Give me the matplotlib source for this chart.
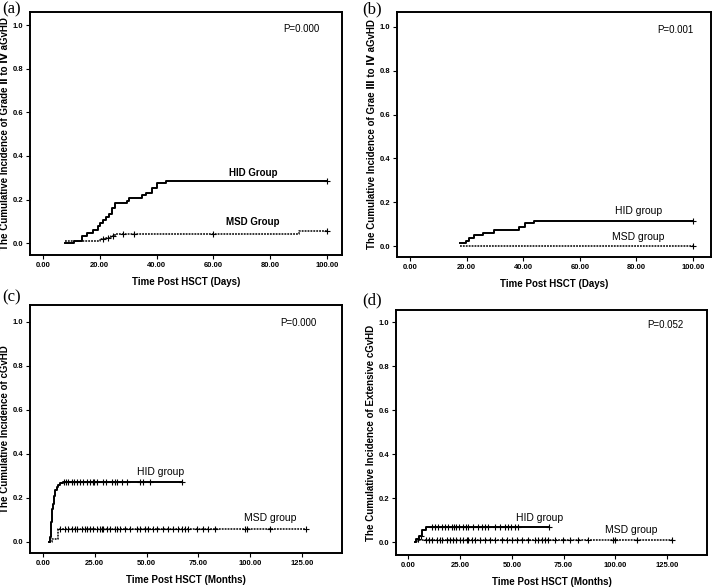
import numpy as np
import matplotlib
matplotlib.use('Agg')
import matplotlib.pyplot as plt
from matplotlib.ticker import FormatStrFormatter

plt.rcParams['font.family'] = ['Liberation Sans', 'DejaVu Sans']

# (a) grade II-IV aGvHD, days
a_hid_t = [7.8, 10.9, 13.6, 15.6, 17.5, 19.5, 20.1, 21.0, 22.0, 23.1, 24.3, 25.3,
           29.4, 30.4, 34.7, 36.1, 38.2, 40.0, 43.2, 100.0]
a_hid_y = [0.0, 0.012, 0.035, 0.047, 0.06, 0.078, 0.092, 0.106, 0.12, 0.133, 0.16,
           0.183, 0.195, 0.207, 0.221, 0.232, 0.253, 0.274, 0.285, 0.285]
a_hid_c = [100.0]
a_msd_t = [7.8, 20.0, 22.0, 24.0, 25.5, 90.0, 100.0]
a_msd_y = [0.012, 0.018, 0.026, 0.035, 0.044, 0.055, 0.055]
a_msd_c = [21.0, 23.0, 24.6, 28.0, 32.0, 60.0, 100.0]

# (b) grade III-IV aGvHD, days
b_hid_t = [17.5, 19.7, 21.0, 22.6, 25.7, 29.7, 38.6, 40.6, 43.9, 100.0]
b_hid_y = [0.012, 0.025, 0.038, 0.049, 0.061, 0.073, 0.086, 0.104, 0.115, 0.115]
b_hid_c = [100.0]
b_msd_t = [17.5, 100.0]
b_msd_y = [0.0, 0.0]
b_msd_c = [100.0]

# (c) cGvHD, months
c_hid_t = [3.0, 3.4, 3.8, 4.5, 5.0, 5.4, 5.9, 6.5, 7.2, 8.0, 9.5, 66.9]
c_hid_y = [0.0, 0.02, 0.09, 0.147, 0.174, 0.21, 0.235, 0.25, 0.26, 0.266, 0.273, 0.273]
c_hid_c = [10.1, 11.1, 12.2, 13.8, 14.9, 16.6, 17.9, 19.5, 21.4, 22.7, 24.0, 24.8,
           25.9, 29.1, 30.4, 33.2, 34.8, 35.6, 38.0, 40.4, 46.6, 48.1, 51.6, 66.9]
c_msd_t = [3.0, 4.2, 7.2, 126.9]
c_msd_y = [0.0, 0.011, 0.056, 0.056]
c_msd_c = [8.2, 10.6, 12.2, 13.8, 15.4, 16.6, 18.7, 20.3, 21.4, 22.7, 24.3, 25.9,
           27.5, 28.3, 29.1, 30.7, 32.3, 34.8, 35.9, 37.2, 39.6, 42.0, 45.2, 46.8,
           49.2, 50.8, 53.3, 54.9, 57.8, 60.5, 62.9, 65.3, 66.9, 68.5, 70.1, 74.1,
           77.4, 79.8, 83.0, 97.5, 98.3, 109.5, 126.9]

# (d) extensive cGvHD, months
d_hid_t = [3.5, 4.0, 5.0, 6.8, 8.4, 68.1]
d_hid_y = [0.0, 0.014, 0.028, 0.056, 0.071, 0.071]
d_hid_c = [4.5, 6.0, 11.6, 12.9, 14.2, 16.4, 17.7, 19.3, 20.9, 22.2, 23.3, 24.5, 26.6,
           27.7, 29.0, 31.4, 33.8, 35.7, 37.0, 38.6, 41.8, 44.3, 46.7, 48.3,
           49.6, 51.5, 52.8, 68.1]
d_msd_t = [3.5, 4.5, 127.1]
d_msd_y = [0.0, 0.012, 0.012]
d_msd_c = [8.4, 10.0, 11.6, 13.7, 15.3, 16.4, 18.5, 20.1, 21.7, 23.3, 24.9, 26.6,
           28.2, 29.0, 30.6, 32.2, 34.6, 37.0, 39.4, 41.8, 45.1, 47.5, 49.9, 52.3,
           54.7, 57.9, 61.1, 62.8, 64.4, 66.0, 67.6, 70.8, 74.8, 78.0, 82.1, 86.9,
           99.0, 99.8, 110.2, 127.1]


def step_curve(ax, t, y, cens, ls):
    t = np.array(t)
    y = np.array(y)
    if ls == '-':
        ax.step(t, y, where='post', color='black', lw=1.4)
    else:
        ax.step(t, y, where='post', color='black', lw=1.1, linestyle=(0, (1.2, 0.7)))
    idx = np.searchsorted(t, cens, side='right') - 1
    ax.plot(cens, y[idx], '+', color='black', ms=4, mew=0.8)


def setup(ax, xlim, ylim, xticks, ylabel, xlabel):
    ax.set_xlim(xlim)
    ax.set_ylim(ylim)
    ax.set_xticks(xticks)
    ax.set_yticks(np.arange(0, 1.01, 0.2))
    ax.xaxis.set_major_formatter(FormatStrFormatter('%.2f'))
    ax.yaxis.set_major_formatter(FormatStrFormatter('%.1f'))
    ax.tick_params(labelsize=5.5, length=3, width=0.8, pad=2)
    for lab in ax.get_xticklabels() + ax.get_yticklabels():
        lab.set_fontweight('bold')
    for s in ax.spines.values():
        s.set_linewidth(1.4)
    ax.set_xlabel(xlabel, fontsize=7, fontweight='bold', labelpad=6)
    ax.set_ylabel(ylabel, fontsize=7, fontweight='bold', labelpad=2)


fig = plt.figure(figsize=(7.14, 5.88), dpi=100)
ax_a = fig.add_axes([0.042, 0.566, 0.437, 0.4136])
ax_b = fig.add_axes([0.556, 0.563, 0.440, 0.4166])
ax_c = fig.add_axes([0.042, 0.0595, 0.437, 0.4215])
ax_d = fig.add_axes([0.5546, 0.056, 0.4356, 0.417])

# (a)
step_curve(ax_a, a_hid_t, a_hid_y, a_hid_c, '-')
step_curve(ax_a, a_msd_t, a_msd_y, a_msd_c, ':')
setup(ax_a, (-4.6, 105.3), (-0.055, 1.06), np.arange(0, 101, 20),
      'The Cumulative Incidence of Grade \u2161 to \u2163 aGvHD', 'Time Post HSCT (Days)')
ax_a.text(91, 0.98, 'P=0.000', fontsize=7, ha='center', va='center')
ax_a.text(74, 0.32, 'HID Group', fontsize=7, fontweight='bold', ha='center', va='center')
ax_a.text(74, 0.098, 'MSD Group', fontsize=7, fontweight='bold', ha='center', va='center')

# (b)
step_curve(ax_b, b_hid_t, b_hid_y, b_hid_c, '-')
step_curve(ax_b, b_msd_t, b_msd_y, b_msd_c, ':')
setup(ax_b, (-4.6, 106.4), (-0.05, 1.068), np.arange(0, 101, 20),
      'The Cumulative Incidence of Grae \u2162 to \u2163 aGvHD', 'Time Post HSCT (Days)')
ax_b.text(93.6, 0.986, 'P=0.001', fontsize=7, ha='center', va='center')
ax_b.text(80.6, 0.16, 'HID group', fontsize=7.5, ha='center', va='center')
ax_b.text(80.6, 0.041, 'MSD group', fontsize=7.5, ha='center', va='center')

# (c)
step_curve(ax_c, c_hid_t, c_hid_y, c_hid_c, '-')
step_curve(ax_c, c_msd_t, c_msd_y, c_msd_c, ':')
setup(ax_c, (-6.3, 144.3), (-0.051, 1.076), np.arange(0, 126, 25),
      'The Cumulative Incidence of cGvHD', 'Time Post HSCT (Months)')
ax_c.text(123, 0.997, 'P=0.000', fontsize=7, ha='center', va='center')
ax_c.text(56.5, 0.318, 'HID group', fontsize=7.5, ha='center', va='center')
ax_c.text(109.6, 0.11, 'MSD group', fontsize=7.5, ha='center', va='center')

# (d)
step_curve(ax_d, d_hid_t, d_hid_y, d_hid_c, '-')
step_curve(ax_d, d_msd_t, d_msd_y, d_msd_c, ':')
setup(ax_d, (-5.9, 144.2), (-0.058, 1.057), np.arange(0, 126, 25),
      'The Cumulative Incidence of Extensive cGvHD', 'Time Post HSCT (Months)')
ax_d.text(124, 0.99, 'P=0.052', fontsize=7, ha='center', va='center')
ax_d.text(63.6, 0.109, 'HID group', fontsize=7.5, ha='center', va='center')
ax_d.text(107.8, 0.056, 'MSD group', fontsize=7.5, ha='center', va='center')

for lab, x, y in [('(a)', 0.003, 0.998), ('(b)', 0.507, 0.998),
                  ('(c)', 0.003, 0.508), ('(d)', 0.507, 0.503)]:
    fig.text(x, y, lab, family='Liberation Serif', fontsize=12, ha='left', va='top')

fig.savefig('out.png', dpi=100)
